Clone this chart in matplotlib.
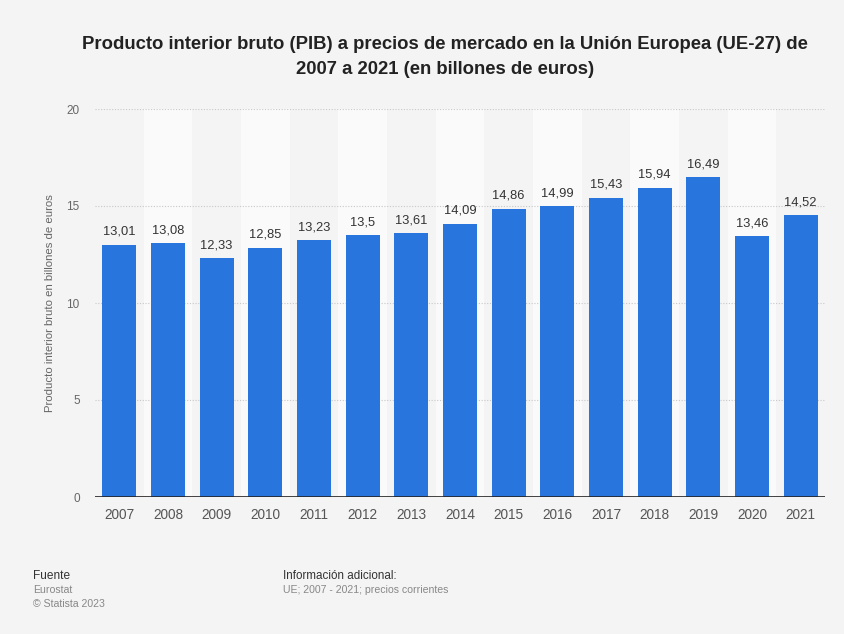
import matplotlib
matplotlib.use("Agg")
import matplotlib.pyplot as plt

years = ["2007", "2008", "2009", "2010", "2011", "2012", "2013", "2014",
         "2015", "2016", "2017", "2018", "2019", "2020", "2021"]
values = [13.01, 13.08, 12.33, 12.85, 13.23, 13.5, 13.61, 14.09,
          14.86, 14.99, 15.43, 15.94, 16.49, 13.46, 14.52]
labels = ["13,01", "13,08", "12,33", "12,85", "13,23", "13,5", "13,61", "14,09",
          "14,86", "14,99", "15,43", "15,94", "16,49", "13,46", "14,52"]
yticks = [0, 5, 10, 15, 20]

plt.rcParams['font.family'] = ['Liberation Sans', 'DejaVu Sans']

bg = "#f4f4f4"
fig = plt.figure(figsize=(8.45, 6.34), dpi=100, facecolor=bg)
ax = fig.add_axes([95/845, 1-497/634, 730/845, 388/634])
ax.set_facecolor(bg)

x = list(range(len(years)))
for i in x:
    if i % 2 == 1:
        ax.axvspan(i - 0.5, i + 0.5, color="#fafafa", zorder=0, lw=0)

for t in yticks[1:]:
    ax.axhline(t, color="#c8c8c8", lw=0.8, ls=(0, (1, 1.5)), zorder=1)

bars = ax.bar(x, values, width=0.7, color="#2876dd", zorder=2)
for xi, v, lab in zip(x, values, labels):
    ax.text(xi, v + 0.35, lab, ha="center", va="bottom", fontsize=9.3, color="#333333")

ax.axhline(0, color="#222222", lw=1.2, zorder=3)
ax.set_xlim(-0.5, len(years) - 0.5)
ax.set_ylim(0, 20)
ax.set_xticks(x)
ax.set_xticklabels(years, fontsize=9.8, color="#555555")
ax.set_yticks(yticks)
ax.set_yticklabels([str(t) for t in yticks], fontsize=8.5, color="#666666")
ax.tick_params(axis="both", length=0)
ax.tick_params(axis="x", pad=8)
ax.tick_params(axis="y", pad=11)
for s in ax.spines.values():
    s.set_visible(False)
ax.set_ylabel("Producto interior bruto en billones de euros", fontsize=8.2,
              color="#666666")
ax.yaxis.set_label_coords(-40/730, 0.5)

fig.text(445/845, 1-57/634, "Producto interior bruto (PIB) a precios de mercado en la Unión Europea (UE-27) de\n2007 a 2021 (en billones de euros)",
         ha="center", va="center", fontsize=13.3, fontweight="bold", color="#222222",
         linespacing=1.55)

fig.text(33/845, 1-576/634, "Fuente", fontsize=8.6, color="#333333", va="center")
fig.text(33/845, 1-590/634, "Eurostat", fontsize=7.6, color="#888888", va="center")
fig.text(33/845, 1-604/634, "© Statista 2023", fontsize=7.6, color="#888888", va="center")
fig.text(283/845, 1-576/634, "Información adicional:", fontsize=8.4, color="#333333", va="center")
fig.text(283/845, 1-590/634, "UE; 2007 - 2021; precios corrientes", fontsize=7.6, color="#888888", va="center")

fig.savefig("out.png", dpi=100, facecolor=bg)
